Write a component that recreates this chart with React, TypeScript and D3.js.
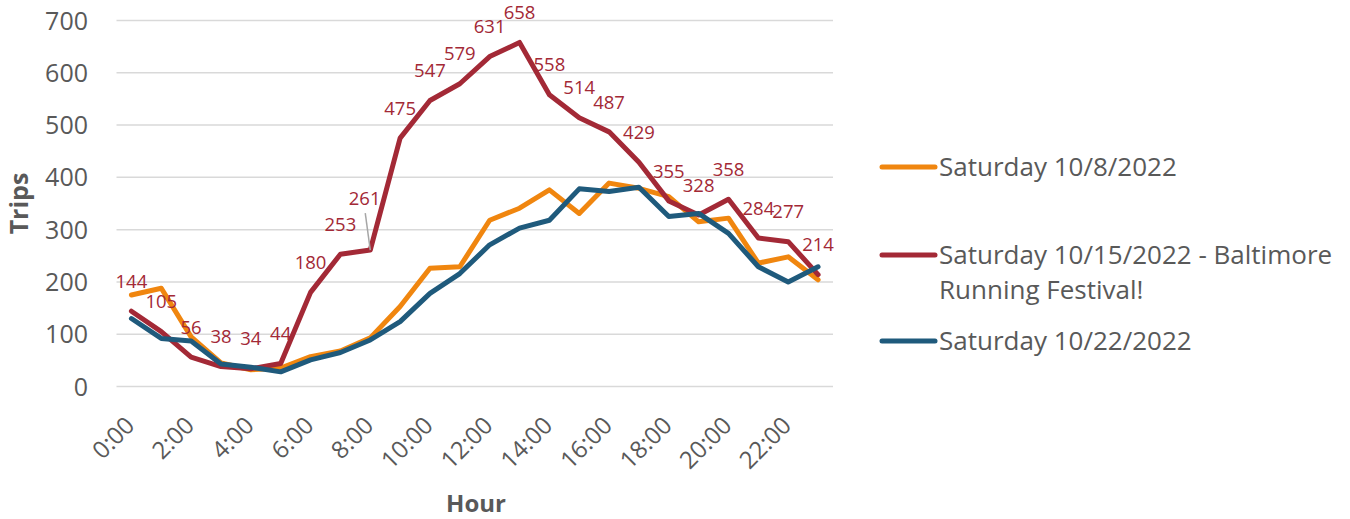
import React from "react";
import * as d3 from "d3";

const hours = ["0:00","1:00","2:00","3:00","4:00","5:00","6:00","7:00","8:00","9:00","10:00","11:00","12:00","13:00","14:00","15:00","16:00","17:00","18:00","19:00","20:00","21:00","22:00","23:00"];
const oct8 = [175,188,95,45,32,35,57,68,93,153,226,229,318,341,376,331,389,379,363,315,322,236,248,204];
const oct15 = [144,105,56,38,34,44,180,253,261,475,547,579,631,658,558,514,487,429,355,328,358,284,277,214];
const oct22 = [130,92,87,43,37,28,51,65,89,124,178,216,271,303,318,378,373,381,325,331,293,229,200,229];
const yTicks = [0,100,200,300,400,500,600,700];
const seriesNames = ["Saturday 10/8/2022", "Saturday 10/15/2022 - Baltimore|Running Festival!", "Saturday 10/22/2022"];

const W = 1350, H = 519;
const FONT = "'Open Sans', sans-serif";
const TEXT = "#595959";
const COLORS = ["#F0860F", "#A32936", "#1F5A7C"];

export default function App() {
  const x = d3.scalePoint<string>().domain(hours).range([116.5, 833]).padding(0.5);
  const y = d3.scaleLinear().domain([0, 700]).range([386.5, 20.5]);
  const line = d3.line<number>().x((_, i) => x(hours[i])!).y((d) => y(d));
  const series = [oct8, oct15, oct22];

  return (
    <svg width={W} height={H} style={{ position: "absolute", left: 0, top: 0 }} fontFamily={FONT}>
      <rect width={W} height={H} fill="#fff" />
      {yTicks.map((t) => (
        <g key={t}>
          <line x1={116.5} x2={833} y1={y(t)} y2={y(t)} stroke="#D9D9D9" strokeWidth={1.5} />
          <text x={88} y={y(t)} dy="0.36em" textAnchor="end" fontSize={25} fill={TEXT}>{t}</text>
        </g>
      ))}
      {hours.map((h, i) => i % 2 === 0 ? (
        <text key={h} transform={`translate(${x(h)! + 4.6},427) rotate(-45)`} textAnchor="end" fontSize={24} fill={TEXT}>{h}</text>
      ) : null)}
      <text x={476} y={512} textAnchor="middle" fontSize={24} fontWeight="bold" fill={TEXT}>Hour</text>
      <text transform={`translate(28,203.5) rotate(-90)`} textAnchor="middle" fontSize={25} fontWeight="bold" fill={TEXT}>Trips</text>
      {series.map((s, k) => (
        <path key={k} d={line(s)!} fill="none" stroke={COLORS[k]} strokeWidth={5} strokeLinejoin="round" strokeLinecap="round" />
      ))}
      {oct15.map((v, i) => {
        const px = x(hours[i])!;
        const py = y(v);
        if (i === 8) {
          return (
            <g key={i}>
              <line x1={px - 5} y1={py - 37} x2={px} y2={py} stroke="#A6A6A6" strokeWidth={1.5} />
              <text x={px - 5.6} y={py - 52} dy="0.36em" textAnchor="middle" fontSize={18.5} fill={COLORS[1]}>{v}</text>
            </g>
          );
        }
        return (
          <text key={i} x={px} y={py - 30} dy="0.36em" textAnchor="middle" fontSize={18.5} fill={COLORS[1]}>{v}</text>
        );
      })}
      {seriesNames.map((n, k) => {
        const ly = [167, 255, 341][k];
        const parts = n.split("|");
        return (
          <g key={k}>
            <line x1={882} x2={935} y1={ly} y2={ly} stroke={COLORS[k]} strokeWidth={5} strokeLinecap="round" />
            {parts.map((p, j) => (
              <text key={j} x={939} y={ly + 9 + j * 35} fontSize={26} fill={TEXT}>{p}</text>
            ))}
          </g>
        );
      })}
    </svg>
  );
}
